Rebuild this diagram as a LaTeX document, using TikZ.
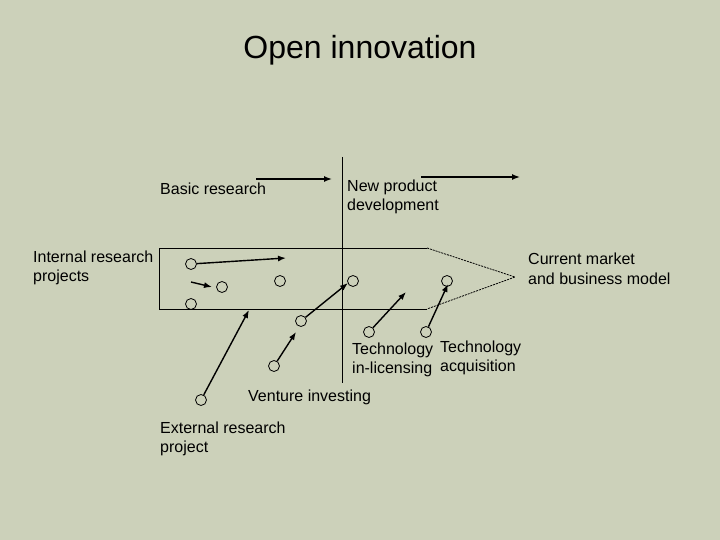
\documentclass[tikz,border=0pt]{standalone}
\usepackage{fontspec}
\setmainfont{Liberation Sans}
\usetikzlibrary{arrows.meta}
\begin{document}
\begin{tikzpicture}[x=1pt,y=-1pt,
  lbl/.style={inner sep=0pt,align=left,font=\fontsize{16}{19.5}\selectfont,anchor=west},
  dot/.style={circle,draw,line width=0.8pt,minimum size=11pt,inner sep=0pt},
  arr/.style={-{Latex[length=8pt,width=6pt]},line width=1.4pt},
  ln/.style={line width=0.8pt}]
\fill[fill={rgb,255:red,204;green,209;blue,186}] (0,0) rectangle (720,540);
\useasboundingbox (0,0) rectangle (720,540);
\node[inner sep=0pt,font=\fontsize{32}{36}\selectfont] (title) at (360,50) {Open innovation};
% frame
\coordinate (tl) at (159,248); \coordinate (bl) at (159,309);
\coordinate (tr) at (427,248); \coordinate (br) at (427,309);
\coordinate (tip) at (515,277);
\draw[ln] (tr) -- (tl) -- (bl) -- (br);
\draw[ln,dash pattern=on 2pt off 1pt] (tr) -- (tip) -- (br);
\coordinate (vt) at (342,157); \coordinate (vb) at (342,383);
\draw[ln] (vt) -- (vb);
% top arrows
\coordinate (a1s) at (256,179); \coordinate (a1e) at (332,179);
\coordinate (a2s) at (421,177); \coordinate (a2e) at (520,177);
\draw[arr] (a1s) -- (a1e);
\draw[arr] (a2s) -- (a2e);
% labels
\node[lbl] (basic) at (160,189) {Basic research};
\node[lbl] (npd) at (347,197) {New product\\development};
\node[lbl] (irp) at (33,268) {Internal research\\projects};
\node[lbl] (cm) at (528,269) {Current market\\and business model};
\node[lbl] (til) at (352,360) {Technology\\in-licensing};
\node[lbl] (tac) at (440,358) {Technology\\acquisition};
\node[lbl] (vi) at (248,397) {Venture investing};
\node[lbl] (erp) at (160,439) {External research\\project};
% circles
\node[dot] (c1) at (191,264) {};
\node[dot] (c2) at (222,287) {};
\node[dot] (c3) at (280,281) {};
\node[dot] (c4) at (191,304) {};
\node[dot] (c5) at (353,281) {};
\node[dot] (c6) at (447,281) {};
\node[dot] (c7) at (301,321) {};
\node[dot] (c8) at (369,332) {};
\node[dot] (c9) at (426,332) {};
\node[dot] (c10) at (274,366) {};
\node[dot] (c11) at (201,400) {};
% arrows
\coordinate (e1) at (286,258);
\coordinate (s2) at (191,282); \coordinate (e2) at (212,287);
\coordinate (e7) at (348,283);
\coordinate (e8) at (406,292);
\coordinate (e9) at (448,284);
\coordinate (e10) at (296,332);
\coordinate (e11) at (249,310);
\draw[arr] (c1) -- (e1);
\draw[arr] (s2) -- (e2);
\draw[arr] (c7) -- (e7);
\draw[arr] (c8) -- (e8);
\draw[arr] (c9) -- (e9);
\draw[arr] (c10) -- (e10);
\draw[arr] (c11) -- (e11);
\end{tikzpicture}
\end{document}
